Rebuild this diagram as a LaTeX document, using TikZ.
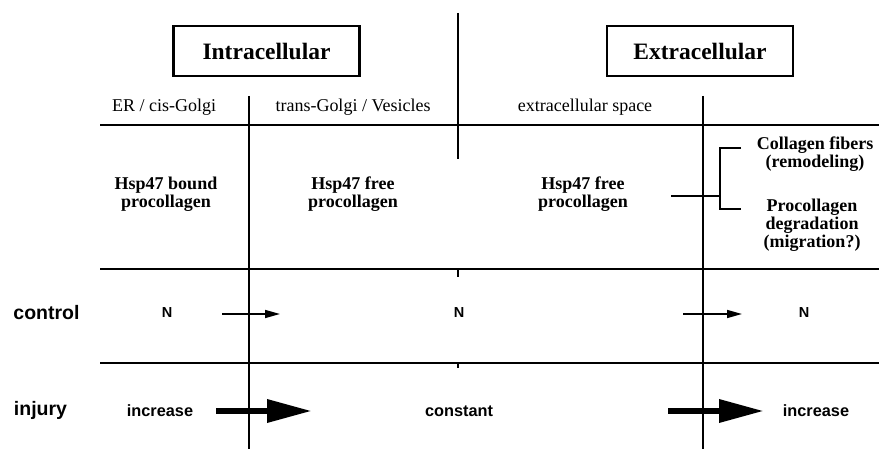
\documentclass[tikz,border=0pt]{standalone}
\usepackage{fontspec}
\setmainfont{Liberation Serif}
\newfontfamily\arialfont{Liberation Sans}
\usetikzlibrary{arrows.meta}
\begin{document}
\begin{tikzpicture}[x=1pt,y=-1pt,
  gridline/.style={line width=2.8pt},
  bracketline/.style={line width=2.5pt},
  titlebox/.style={draw,line width=2.5pt,minimum width=186pt,minimum height=50pt,inner sep=0pt,
    font=\bfseries\fontsize{23.5}{28}\selectfont},
  region/.style={inner sep=0pt,font=\fontsize{18}{18}\selectfont},
  stage/.style={inner sep=0pt,align=center,font=\bfseries\fontsize{18}{18}\selectfont},
  rowlabel/.style={inner sep=0pt,font=\arialfont\bfseries\fontsize{19.5}{20}\selectfont},
  value/.style={inner sep=0pt,font=\arialfont\bfseries\fontsize{16.3}{18}\selectfont},
  nval/.style={inner sep=0pt,font=\arialfont\bfseries\fontsize{14.5}{16}\selectfont},
  thinarrow/.style={line width=1.5pt,-{Triangle[length=15pt,width=8pt]}},
  thickarrow/.style={line width=6.5pt,-{Triangle[length=45pt,width=22pt]}}]
\useasboundingbox (0,0) rectangle (879,449);

% grid
\coordinate (h1a) at (100,125); \coordinate (h1b) at (879,125);
\coordinate (h2a) at (100,269); \coordinate (h2b) at (879,269);
\coordinate (h3a) at (100,363); \coordinate (h3b) at (879,363);
\coordinate (v1a) at (249,96);  \coordinate (v1b) at (249,449);
\coordinate (v2a) at (703,96);  \coordinate (v2b) at (703,449);
\coordinate (vca) at (458,13);  \coordinate (vcb) at (458,159);
\coordinate (t1a) at (458,269); \coordinate (t1b) at (458,277);
\coordinate (t2a) at (458,363); \coordinate (t2b) at (458,368);
\draw[gridline] (h1a) -- (h1b);
\draw[gridline] (h2a) -- (h2b);
\draw[gridline] (h3a) -- (h3b);
\draw[gridline] (v1a) -- (v1b);
\draw[gridline] (v2a) -- (v2b);
\draw[gridline] (vca) -- (vcb);
\draw[bracketline] (t1a) -- (t1b);
\draw[bracketline] (t2a) -- (t2b);

% titles
\node[titlebox] (intra) at (266.5,51) {Intracellular};
\node[titlebox] (extra) at (700,51) {Extracellular};

% region labels
\node[region] (er) at (164,107) {ER / cis-Golgi};
\node[region] (tg) at (353,107) {trans-Golgi / Vesicles};
\node[region] (es) at (585,107) {extracellular space};

% stages
\node[stage] (bound) at (166,194) {Hsp47 bound\\procollagen};
\node[stage] (free1) at (353,194) {Hsp47 free\\procollagen};
\node[stage] (free2) at (583,194) {Hsp47 free\\procollagen};
\node[stage] (fibers) at (815,154) {Collagen fibers\\(remodeling)};
\node[stage] (degr) at (812,225) {Procollagen\\degradation\\(migration?)};

% bracket
\coordinate (bk0) at (671,196);
\coordinate (bkm) at (720,196);
\coordinate (bkt) at (741,148);
\coordinate (bkb) at (741,209);
\draw[bracketline] (bk0) -- (bkm);
\draw[bracketline] (bkt) -- (bkm |- bkt) -- (bkm |- bkb) -- (bkb);

% rows
\node[rowlabel] (control) at (46.5,313) {control};
\node[rowlabel] (injury) at (40.5,410) {injury};

\node[nval] (n1) at (167,313) {N};
\node[nval] (n2) at (459,313) {N};
\node[nval] (n3) at (804,313) {N};

\node[value] (inc1) at (160,411) {increase};
\node[value] (const) at (459,411) {constant};
\node[value] (inc2) at (816,411) {increase};

% arrows
\coordinate (ca1) at (222,314); \coordinate (ca1e) at (280,314);
\coordinate (ca2) at (683,314); \coordinate (ca2e) at (742,314);
\coordinate (ia1) at (216,411); \coordinate (ia1e) at (312,411);
\coordinate (ia2) at (668,411); \coordinate (ia2e) at (764,411);
\draw[thinarrow] (ca1) -- (ca1e);
\draw[thinarrow] (ca2) -- (ca2e);
\draw[thickarrow] (ia1) -- (ia1e);
\draw[thickarrow] (ia2) -- (ia2e);
\end{tikzpicture}
\end{document}
